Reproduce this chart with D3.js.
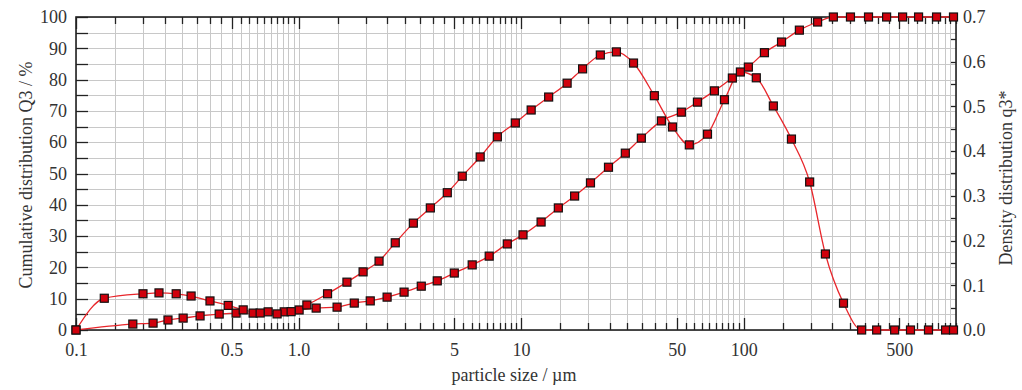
<!DOCTYPE html>
<html>
<head>
<meta charset="utf-8">
<script src="https://cdn.jsdelivr.net/npm/d3@7"></script>
<style>
  body { margin: 0; background: #fff; }
</style>
</head>
<body>
<svg id="chart" width="1022" height="390"></svg>
<script>
// cumulative distribution Q3 (%)
const cumSize = [0.1, 0.180, 0.222, 0.259, 0.303, 0.361, 0.440, 0.524, 0.625, 0.730, 0.862, 1.006,
  1.20, 1.49, 1.78, 2.10, 2.50, 2.98, 3.56, 4.20, 5.01, 6.03, 7.19, 8.67, 10.2, 12.3, 14.7, 17.4,
  20.5, 24.7, 29.4, 34.7, 42.7, 52.5, 62.0, 73.9, 89.0, 105, 124, 148, 178, 215, 253, 302, 364,
  439, 518, 611, 736, 877];
const cumValue = [0, 1.9, 2.2, 3.2, 3.8, 4.5, 5.1, 5.4, 5.4, 5.8, 5.8, 6.4,
  7.0, 7.3, 8.6, 9.3, 10.5, 12.1, 14, 15.7, 18.2, 20.8, 23.6, 27.5, 30.4, 34.5, 39, 42.8,
  47, 52, 56.5, 61.3, 66.8, 69.6, 72.8, 76.4, 80.5, 84, 88.6, 92, 95.8, 98.4, 100, 100, 100,
  100, 100, 100, 100, 100];

// density distribution q3*
const densSize = [0.1, 0.134, 0.200, 0.236, 0.282, 0.329, 0.400, 0.483, 0.564, 0.672, 0.801, 0.926,
  1.09, 1.35, 1.65, 1.95, 2.30, 2.72, 3.28, 3.91, 4.66, 5.44, 6.55, 7.82, 9.42, 11.1, 13.3, 16.1,
  18.9, 22.7, 26.8, 32.0, 39.7, 47.9, 57.0, 68.8, 82.0, 96.7, 114, 136, 164, 198, 233, 281, 339,
  396, 477, 562, 677, 808, 877];
const densValue = [0, 0.071, 0.081, 0.083, 0.081, 0.076, 0.065, 0.055, 0.045, 0.038, 0.036, 0.041,
  0.056, 0.081, 0.107, 0.130, 0.154, 0.195, 0.239, 0.273, 0.307, 0.344, 0.387, 0.432, 0.463, 0.492,
  0.521, 0.552, 0.584, 0.615, 0.622, 0.597, 0.524, 0.454, 0.414, 0.438, 0.515, 0.577, 0.564, 0.501,
  0.427, 0.331, 0.170, 0.060, 0, 0, 0, 0, 0, 0, 0];

const xTickLabels = [0.1, 0.5, 1, 5, 10, 50, 100, 500];
const xLabelText = ['0.1', '0.5', '1.0', '5', '10', '50', '100', '500'];
const leftTicks = [0, 10, 20, 30, 40, 50, 60, 70, 80, 90, 100];
const rightTicks = [0, 0.1, 0.2, 0.3, 0.4, 0.5, 0.6, 0.7];

const svg = d3.select('#chart');
const pLeft = 76, pRight = 956, pTop = 17, pBottom = 330;
const serif = '"Liberation Serif", "Times New Roman", Times, serif';

const x = d3.scaleLog().domain([0.1, 900]).range([pLeft, pRight]);
const yL = d3.scaleLinear().domain([0, 100]).range([pBottom, pTop]);
const yR = d3.scaleLinear().domain([0, 0.7]).range([pBottom, pTop]);

// minor positions on the log axis: 1, 1.5, 2, ... 9.5 in every decade
const xMinor = [];
[0.1, 1, 10, 100].forEach(function(d) {
  for (let m = 1; m < 10; m += 0.5) {
    const v = +(m * d).toPrecision(3);
    if (v >= 0.1 && v <= 900) xMinor.push(v);
  }
});
const xMajor = xMinor.filter(function(v) {
  const m = +(v / Math.pow(10, Math.floor(Math.log10(v) + 1e-9))).toPrecision(3);
  return m === 1 || m === 5;
});
const yMinor = d3.range(0, 101, 5);
const rMinor = d3.range(0, 0.7001, 0.05);

// grid
const grid = svg.append('g').attr('stroke', '#c8c8c8').attr('stroke-width', 1);
grid.selectAll('.vg').data(xMinor).enter().append('line')
  .attr('x1', function(d) { return Math.round(x(d)) + 0.5; })
  .attr('x2', function(d) { return Math.round(x(d)) + 0.5; })
  .attr('y1', pTop).attr('y2', pBottom);
grid.selectAll('.hg').data(yMinor).enter().append('line')
  .attr('x1', pLeft).attr('x2', pRight)
  .attr('y1', function(d) { return Math.round(yL(d)) + 0.5; })
  .attr('y2', function(d) { return Math.round(yL(d)) + 0.5; });

// ticks (inward)
const ticks = svg.append('g').attr('stroke', '#222').attr('stroke-width', 1.3);
function tickLines(data, pos, len, side) {
  ticks.append('g').selectAll('line').data(data).enter().append('line')
    .each(function(d) {
      const el = d3.select(this);
      const p = Math.round(pos(d)) + 0.5;
      const l = typeof len === 'function' ? len(d) : len;
      if (side === 'bottom') el.attr('x1', p).attr('x2', p).attr('y1', pBottom).attr('y2', pBottom - l);
      if (side === 'top') el.attr('x1', p).attr('x2', p).attr('y1', pTop).attr('y2', pTop + l);
      if (side === 'left') el.attr('y1', p).attr('y2', p).attr('x1', pLeft).attr('x2', pLeft + l);
      if (side === 'right') el.attr('y1', p).attr('y2', p).attr('x1', pRight).attr('x2', pRight - l);
    });
}
const xLen = function(d) { return xMajor.indexOf(d) >= 0 ? 12 : 7; };
tickLines(xMinor, x, xLen, 'bottom');
tickLines(xMinor, x, xLen, 'top');
tickLines(yMinor, yL, 12, 'left');
tickLines(rMinor, yR, 5, 'right');

// frame
svg.append('rect')
  .attr('x', pLeft).attr('y', pTop)
  .attr('width', pRight - pLeft).attr('height', pBottom - pTop)
  .attr('fill', 'none').attr('stroke', '#222').attr('stroke-width', 1.6);

// axis labels via d3 axes (ticks hidden, lines drawn above)
const fontSize = 18;
const axB = svg.append('g').attr('transform', 'translate(0,' + pBottom + ')')
  .call(d3.axisBottom(x).tickValues(xTickLabels).tickSize(0).tickPadding(13)
    .tickFormat(function(d, i) { return xLabelText[i]; }));
const axL = svg.append('g').attr('transform', 'translate(' + pLeft + ',0)')
  .call(d3.axisLeft(yL).tickValues(leftTicks).tickSize(0).tickPadding(9).tickFormat(d3.format('d')));
const axR = svg.append('g').attr('transform', 'translate(' + pRight + ',0)')
  .call(d3.axisRight(yR).tickValues(rightTicks).tickSize(0).tickPadding(7).tickFormat(d3.format('.1f')));
[axB, axL, axR].forEach(function(a) {
  a.select('.domain').remove();
  a.attr('font-family', serif).attr('font-size', fontSize);
  a.selectAll('text').attr('font-size', fontSize).attr('font-family', serif).attr('fill', '#333');
});

function title(t) {
  return svg.append('text').attr('text-anchor', 'middle')
    .attr('font-family', serif).attr('font-size', fontSize).attr('fill', '#333').text(t);
}
title('particle size / µm').attr('x', 514).attr('y', 381);
title('Cumulative distribution Q3 / %').attr('transform', 'translate(32,175) rotate(-90)');
title('Density distribution q3*').attr('transform', 'translate(1012,178) rotate(-90)');

// curves
const cumLine = d3.line()
  .x(function(d, i) { return x(cumSize[i]); })
  .y(function(d) { return yL(d); })
  .curve(d3.curveMonotoneX);
const densLine = d3.line()
  .x(function(d, i) { return x(densSize[i]); })
  .y(function(d) { return yR(d); })
  .curve(d3.curveMonotoneX);

svg.append('path').datum(cumValue).attr('d', cumLine)
  .attr('fill', 'none').attr('stroke', '#e8262b').attr('stroke-width', 1.3);
svg.append('path').datum(densValue).attr('d', densLine)
  .attr('fill', 'none').attr('stroke', '#e8262b').attr('stroke-width', 1.3);

const s = 8;
svg.append('g').selectAll('rect').data(cumValue).enter().append('rect')
  .attr('x', function(d, i) { return x(cumSize[i]) - s / 2; })
  .attr('y', function(d) { return yL(d) - s / 2; })
  .attr('width', s).attr('height', s)
  .attr('fill', '#d0000c').attr('stroke', '#111').attr('stroke-width', 1.2);
svg.append('g').selectAll('rect').data(densValue).enter().append('rect')
  .attr('x', function(d, i) { return x(densSize[i]) - s / 2; })
  .attr('y', function(d) { return yR(d) - s / 2; })
  .attr('width', s).attr('height', s)
  .attr('fill', '#d0000c').attr('stroke', '#111').attr('stroke-width', 1.2);
</script>
</body>
</html>
